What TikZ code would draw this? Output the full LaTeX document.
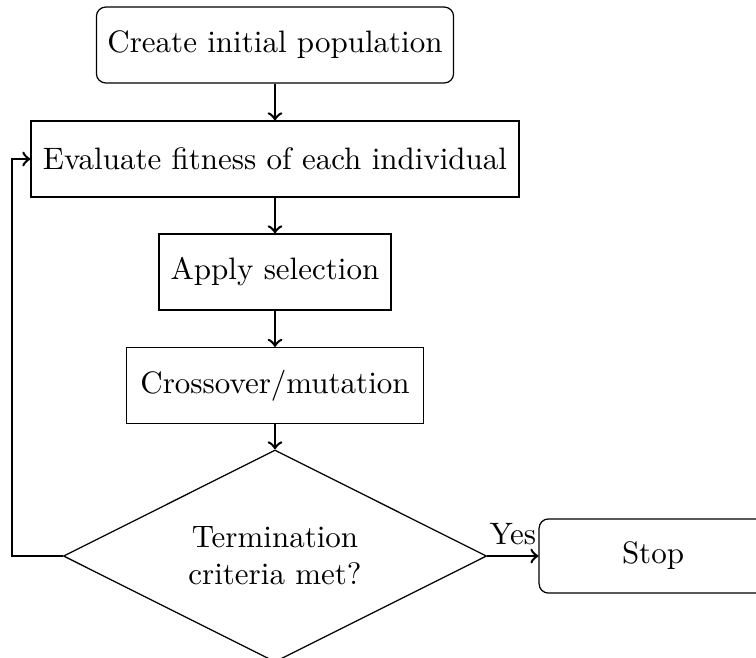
\documentclass[tikz,border=0pt]{standalone}
\usepackage{fontspec}
\usetikzlibrary{shapes.geometric}
\begin{document}
\begin{tikzpicture}[x=0.32258pt,y=-0.32258pt,
  box/.style={draw,rectangle,minimum height=24.5pt,inner sep=0pt,align=center},
  rbox/.style={box,rounded corners=3pt},
  decision/.style={draw,diamond,shape aspect=2,inner sep=0pt,minimum width=136.5pt,minimum height=68.4pt,align=center},
  arr/.style={->,thick}]
\useasboundingbox (0,0) rectangle (756,657);
\node[rbox,minimum width=115.2pt] (b1) at (275,45) {Create initial population};
\node[box,minimum width=157.4pt] (b2) at (275,159) {Evaluate fitness of each individual};
\node[box,minimum width=74.8pt] (b3) at (275,272) {Apply selection};
\node[box,minimum width=95.8pt] (b4) at (275,385.5) {Crossover/mutation};
\node[decision] (d) at (275,556) {Termination\\criteria met?};
\node[rbox,minimum width=73.5pt,minimum height=23.9pt] (stop) at (653,556) {Stop};
\coordinate (fb) at (12,556);
\draw[arr] (b1) -- (b2);
\draw[arr] (b2) -- (b3);
\draw[arr] (b3) -- (b4);
\draw[arr] (b4) -- (d);
\draw[arr] (d.west) -- (fb) |- (b2.west);
\draw[arr] (d.east) -- node[above] {Yes} (stop.west);
\end{tikzpicture}
\end{document}
